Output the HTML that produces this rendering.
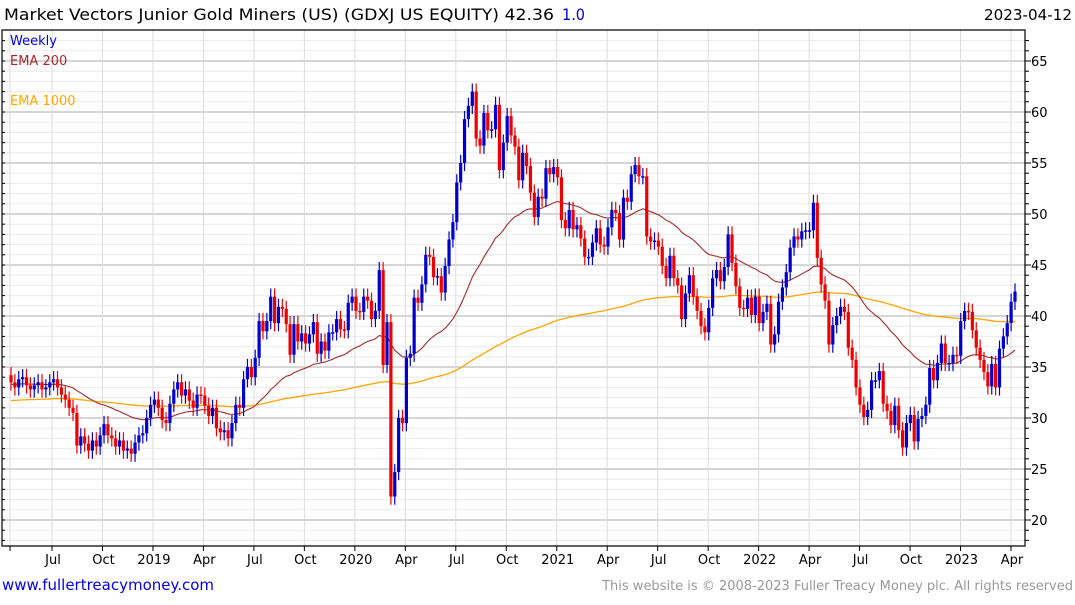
<!DOCTYPE html>
<html><head><meta charset="utf-8"><style>
body{margin:0;background:#fff;width:1075px;height:600px;overflow:hidden;font-family:"Liberation Sans",sans-serif}
svg text{font-family:"DejaVu Sans","Liberation Sans",sans-serif}
</style></head><body>
<svg id="chart" width="1075" height="600" viewBox="0 0 1075 600" xmlns="http://www.w3.org/2000/svg">
<g id="grid"></g>
<g id="ema"></g>
<g id="candles"></g>
<g id="axes"></g>
<text x="4" y="20" font-size="16" textLength="550" lengthAdjust="spacingAndGlyphs" fill="#000">Market Vectors Junior Gold Miners (US) (GDXJ US EQUITY) 42.36</text>
<text x="562" y="20" font-size="16" textLength="23" lengthAdjust="spacingAndGlyphs" fill="#0000dd">1.0</text>
<text x="1072" y="20" font-size="15.5" textLength="88" lengthAdjust="spacingAndGlyphs" text-anchor="end" fill="#000">2023-04-12</text>
<text x="10" y="45" font-size="13" fill="#0000dd">Weekly</text>
<text x="10" y="65" font-size="13" fill="#a52a2a">EMA 200</text>
<text x="10" y="105" font-size="13" fill="#ffa500">EMA 1000</text>
<text x="2" y="590" font-size="15" fill="#0000ee">www.fullertreacymoney.com</text>
<text x="1073" y="590" font-size="13" text-anchor="end" fill="#999">This website is © 2008-2023 Fuller Treacy Money plc. All rights reserved</text>
</svg>
<script>
const closes = [33.5,33,33.8,34,33.2,32.8,33.2,33.5,32.8,33,33.5,33.8,
33.0,32.3,31.8,31.0,30.5,27.3,28.2,27.5,26.8,27.8,27.2,28.3,29.4,28.3,28.0,27.2,27.8,26.8,27.0,26.5,27.6,28.3,28.5,30.0,31.3,31.8,31.0,29.8,29.5,31.4,32.8,33.5,32.2,32.8,31.7,31.0,32.3,32.2,31.2,30.2,31.0,29.0,28.6,28.8,28.0,29.5,31.3,
31.0,33.8,35.0,34.0,35.9,39.5,38.5,39.5,41.9,39.3,40.9,40.7,39.2,36.2,39.2,37.5,38.3,37.3,38.2,39.4,36.3,37.5,36.6,38.4,38.4,39.7,38.7,38.6,41.3,41.9,40.5,40.4,41.9,41.5,39.7,40.5,44.5,35.2,39.4,22.3,24.7,30.0,29.5,35.9,36.3,41.8,41.3,43.1,46.0,45.8,43.8,43.9,42.3,44.9,47.5,49.2,53.1,55.0,59.3,60.6,62.0,57.4,56.7,59.9,58.2,58.3,60.7,54.3,57.0,59.6,57.7,56.6,53.3,56.0,54.7,52.1,49.7,51.7,51.5,54.5,53.9,54.6,53.6,49.4,48.6,50.4,48.5,48.9,47.6,45.8,45.8,47.2,48.6,47.0,46.8,48.7,50.4,50.1,47.5,51.6,51.2,53.9,54.8,53.7,53.7,47.8,47.3,47.4,46.8,44.9,43.7,45.9,43.7,43.0,39.7,42.2,44.0,41.9,40.5,39.0,38.4,40.8,43.7,44.5,43.4,44.8,48.0,45.2,42.9,40.8,40.7,41.8,40.1,41.9,39.3,40.4,41.2,37.2,38.2,41.4,42.8,44.3,46.7,47.8,47.5,48.3,48.4,48.4,51.1,45.7,43.1,41.5,37.2,39.1,40.0,40.9,40.4,36.9,35.7,33.0,31.3,30.1,30.8,33.7,33.7,34.6,31.4,30.7,29.3,31.2,28.8,27.1,29.5,30.3,27.7,29.9,30.2,31.3,34.9,33.7,35.4,37.3,35.4,35.4,36.2,36.1,39.5,40.5,40.4,38.6,36.9,35.7,34.5,33.1,35.3,33.0,36.8,38.0,39.3,41.4,42.4];
const firstOpen = 34.2;
const yTicks = [20,25,30,35,40,45,50,55,60,65];
const monthLabels = ["","Jul","Oct","2019","Apr","Jul","Oct","2020","Apr","Jul","Oct","2021","Apr","Jul","Oct","2022","Apr","Jul","Oct","2023","Apr"];
const ema200Seed = 33.3, ema1000Seed = 31.7;

const L=2,R=1025,T=30,B=546;
const NS="http://www.w3.org/2000/svg";
function mk(tag,attrs,parent){const e=document.createElementNS(NS,tag);for(const k in attrs)e.setAttribute(k,attrs[k]);parent.appendChild(e);return e;}
const y=v=>61+(65-v)*10.2;
const x=i=>11+i*(1015-11)/(closes.length-1);
const mx=j=>j===0?10:52+(j-1)*(1011-52)/(monthLabels.length-2);
const grid=document.getElementById('grid'),axes=document.getElementById('axes'),cg=document.getElementById('candles'),eg=document.getElementById('ema');

for(let v=18;v<=67;v++){const yy=y(v);if(yy<T||yy>B)continue;
 const major=v%5===0;
 const ln=mk('line',{x1:L,x2:R,y1:yy,y2:yy,stroke:major?'#bdbdbd':'#ececec','stroke-width':major?1.2:1},grid);
 
 
 const tk=mk('line',{x1:R,x2:R+(major?6:4),y1:yy,y2:yy,stroke:'#000'},axes);
 
 
 const tl=mk('line',{x1:L,x2:L+3,y1:yy,y2:yy,stroke:'#000'},axes);
 
 
}
yTicks.forEach(v=>{const t=mk('text',{x:1031,y:y(v)+5,'font-size':13,fill:'#000'},axes);t.textContent=v;
 
 });
monthLabels.forEach((m,j)=>{const xx=mx(j);
 const g=mk('line',{x1:xx,x2:xx,y1:T,y2:B,stroke:'#dcdcdc'},grid);
 
 
 const tk=mk('line',{x1:xx,x2:xx,y1:B,y2:B+5,stroke:'#000'},axes);
 
 
 if(m){const t=mk('text',{x:xx+1,y:564,'font-size':13,'text-anchor':'middle',fill:'#000'},axes);t.textContent=m;
 
 }
});
const fr=mk('path',{d:`M${L} ${T}H${R}V${B}H${L}Z`,fill:'none',stroke:'#000','stroke-width':1.2},axes);



function ema(seed,alpha){let e=seed;return closes.map(c=>{e=e+alpha*(c-e);return e;});}
const e200=ema(ema200Seed,2/41),e1000=ema(ema1000Seed,2/201);
const p1=mk('polyline',{points:e1000.map((v,i)=>x(i)+','+y(v)).join(' '),fill:'none',stroke:'#ffa500','stroke-width':1.3},eg);


const p2=mk('polyline',{points:e200.map((v,i)=>x(i)+','+y(v)).join(' '),fill:'none',stroke:'#a52a2a','stroke-width':1.1},eg);



closes.forEach((c,i)=>{const o=i?closes[i-1]:firstOpen;const up=c>=o;const col=up?'#0000cc':'#ee0000';
 const hi=Math.max(o,c)+0.8,lo=Math.min(o,c)-0.8;const xx=x(i);
 const w=mk('line',{x1:xx,x2:xx,y1:y(hi),y2:y(lo),stroke:col,'stroke-width':1.2},cg);
 
 
 const top=y(Math.max(o,c)),h=Math.max(1.5,y(Math.min(o,c))-top);
 const b=mk('rect',{x:xx-1.6,y:top,width:3.2,height:h,fill:col},cg);
 
 
});
</script>
</body></html>
